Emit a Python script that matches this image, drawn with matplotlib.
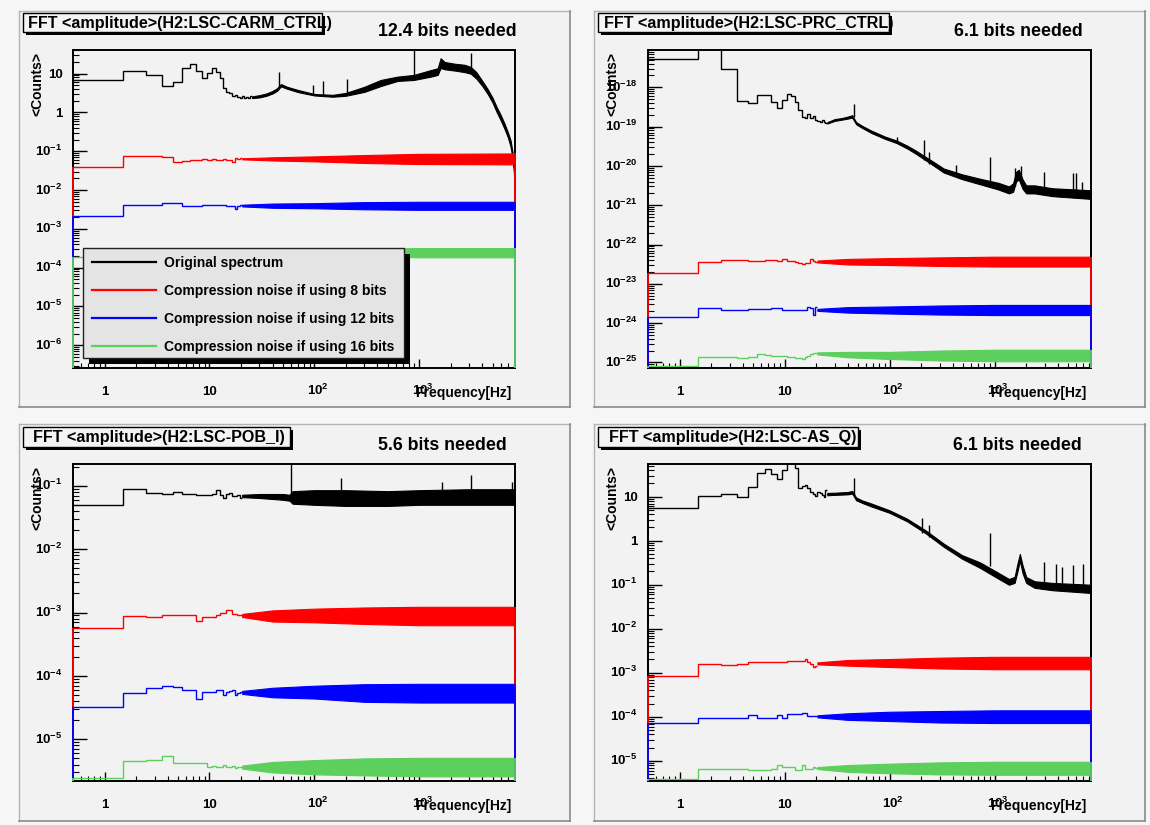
import numpy as np
import matplotlib
matplotlib.use("Agg")
import matplotlib.pyplot as plt
import matplotlib.transforms as mtransforms
from matplotlib.patches import Rectangle
from matplotlib.ticker import LogLocator, NullFormatter

plt.rcParams['font.family'] = ['Liberation Sans', 'DejaVu Sans']
plt.rcParams['font.weight'] = 'bold'
plt.rcParams['mathtext.fontset'] = 'custom'
plt.rcParams['mathtext.rm'] = 'Liberation Sans:bold'
plt.rcParams['mathtext.it'] = 'Liberation Sans:bold'
plt.rcParams['mathtext.bf'] = 'Liberation Sans:bold'
plt.rcParams['mathtext.sf'] = 'Liberation Sans:bold'
plt.rcParams['mathtext.default'] = 'rm'

# ======================= DATA =======================
freq_min, freq_max = 0.5, 8192.0
first_edge = 0.5
bin_width = 1.0

panel_titles = ["FFT <amplitude>(H2:LSC-CARM_CTRL)", "FFT <amplitude>(H2:LSC-PRC_CTRL)",
                "FFT <amplitude>(H2:LSC-POB_I)", "FFT <amplitude>(H2:LSC-AS_Q)"]
bits_needed = [12.4, 6.1, 5.6, 6.1]
legend_labels = ["Original spectrum", "Compression noise if using 8 bits",
                 "Compression noise if using 12 bits", "Compression noise if using 16 bits"]
x_label = "Frequency[Hz]"
y_label = "<Counts>"
y_limits = [(2.6e-7, 40.8), (7.2e-26, 8.9e-18), (2.2e-6, 0.22), (3.47e-6, 55.3)]

# ---- Panel 1: H2:LSC-CARM_CTRL ----
p1_black_bins = [6.8, 11.7, 9.2, 4.8, 6.2, 13.8, 17.4, 11.7, 7.6, 10.2, 13.8, 11.3, 7.6, 4.35,
                 3.44, 3.1, 2.7, 2.9, 2.5, 2.3, 2.6, 2.4, 2.5, 2.3, 2.6]
p1_black_band_f = [25.5, 30, 35, 40, 44, 48, 55, 70, 100, 150, 200, 300, 430, 620, 890, 1290, 1500,
                   1600, 1750, 2200, 2700, 3100, 3500, 4000, 4500, 5000, 5500, 6000, 6500, 7000,
                   7440, 7800, 8000, 8130, 8192]
p1_black_band_lo = [2.35, 2.45, 2.7, 3.1, 3.6, 4.7, 4.1, 3.35, 2.75, 2.55, 2.7, 3.4, 4.8, 6.5, 6.9, 8.4, 9.3,
                    14, 13, 12, 11, 10, 7.5, 4.8, 3.0, 1.8, 1.0, 0.62, 0.38, 0.23,
                    0.13, 0.06, 0.028, 0.010, 0.003]
p1_black_band_hi = [2.6, 2.8, 3.1, 3.6, 4.2, 5.4, 4.6, 3.8, 3.0, 2.85, 3.2, 4.6, 6.9, 8.4, 9.3, 12.4, 13.8,
                    25, 20, 18, 17, 15, 11, 6.5, 4.0, 2.4, 1.35, 0.85, 0.52, 0.31,
                    0.19, 0.085, 0.042, 0.016, 0.005]
p1_spike_f = [46, 98, 120, 206, 900, 3130]
p1_spike_lo = [4.2, 2.8, 2.7, 3.0, 8.0, 15.0]
p1_spike_hi = [11.0, 5.1, 6.4, 7.2, 60.0, 34.0]
p1_red_bins = [0.040, 0.0757, 0.0757, 0.070, 0.054, 0.0575, 0.058, 0.060, 0.062, 0.060, 0.062,
               0.060, 0.061, 0.062, 0.060, 0.058, 0.052, 0.066, 0.064, 0.066]
p1_blue_bins = [0.0022, 0.0041, 0.0041, 0.0046, 0.0046, 0.0040, 0.0040, 0.0040, 0.0041, 0.0041,
                0.0041, 0.0042, 0.0042, 0.0042, 0.0040, 0.0039, 0.0040, 0.0033, 0.0040, 0.0041]
p1_green_bins = [1.86e-4, 2.4e-4, 2.4e-4, 2.5e-4, 2.5e-4, 2.4e-4, 2.4e-4, 2.4e-4, 2.5e-4, 2.5e-4,
                 2.5e-4, 2.5e-4, 2.5e-4, 2.4e-4, 2.4e-4, 2.4e-4, 2.5e-4, 2.3e-4, 2.5e-4, 2.5e-4]
p1_noise_f = [20.5, 40, 100, 300, 1000, 8192]
p1_red_lo = [0.062, 0.058, 0.055, 0.050, 0.047, 0.046]
p1_red_hi = [0.066, 0.070, 0.074, 0.080, 0.086, 0.088]
p1_blue_lo = [0.0038, 0.0035, 0.0034, 0.0032, 0.0031, 0.0031]
p1_blue_hi = [0.0042, 0.0045, 0.0046, 0.0049, 0.0050, 0.0050]
p1_green_lo = [2.35e-4, 2.1e-4, 2.0e-4, 1.95e-4, 1.85e-4, 1.85e-4]
p1_green_hi = [2.6e-4, 2.9e-4, 3.0e-4, 3.1e-4, 3.2e-4, 3.2e-4]

# ---- Panel 2: H2:LSC-PRC_CTRL ----
p2_black_bins = [5.2e-18, 1.5e-17, 3.0e-18, 4.6e-19, 3.9e-19, 6.3e-19, 6.4e-19, 4.3e-19, 3.0e-19,
                 4.8e-19, 6.8e-19, 6.1e-19, 4.2e-19, 2.6e-19, 1.8e-19, 1.7e-19, 2.1e-19, 1.7e-19,
                 1.9e-19, 1.5e-19, 1.4e-19, 1.3e-19, 1.5e-19, 1.3e-19, 1.2e-19]
p2_black_band_f = [25.5, 30, 35, 40, 44, 48, 55, 67, 90, 117, 148, 180, 220, 258, 327, 490, 730,
                   1090, 1370, 1500, 1600, 1700, 1850, 2000, 2400, 3550, 8192]
p2_black_band_lo = [1.2e-19, 1.4e-19, 1.5e-19, 1.6e-19, 1.7e-19, 1.15e-19, 9.2e-20, 6.9e-20,
                    4.9e-20, 3.8e-20, 2.75e-20, 2.0e-20, 1.4e-20, 1.05e-20, 6.8e-21, 4.6e-21, 3.4e-21,
                    2.5e-21, 2.0e-21, 2.2e-21, 4.0e-21, 4.5e-21, 2.6e-21, 2.0e-21, 2.0e-21, 1.7e-21,
                    1.45e-21]
p2_black_band_hi = [1.3e-19, 1.55e-19, 1.65e-19, 1.8e-19, 1.95e-19, 1.3e-19, 1.04e-19, 7.9e-20,
                    5.6e-20, 4.4e-20, 3.25e-20, 2.4e-20, 1.7e-20, 1.3e-20, 8.6e-21, 6.1e-21, 4.7e-21,
                    3.7e-21, 3.0e-21, 3.6e-21, 7.0e-21, 8.0e-21, 4.5e-21, 3.2e-21, 3.2e-21, 2.7e-21,
                    2.4e-21]
p2_spike_f = [46, 117, 211, 238, 425, 900, 1560, 1790, 2950, 5540, 5950, 6800]
p2_spike_lo = [1.8e-19, 4.0e-20, 1.4e-20, 1.1e-20, 6.0e-21, 3.5e-21, 3.0e-21, 5.0e-21, 2.3e-21,
               2.0e-21, 2.0e-21, 2.0e-21]
p2_spike_hi = [3.7e-19, 5.5e-20, 4.6e-20, 2.3e-20, 1.05e-20, 1.7e-20, 8.9e-21, 1.0e-20, 7.0e-21,
               6.5e-21, 6.5e-21, 4.0e-21]
p2_red_bins = [1.85e-23, 3.66e-23, 4.0e-23, 4.0e-23, 3.9e-23, 3.9e-23, 4.0e-23, 4.0e-23, 3.9e-23,
               4.4e-23, 3.9e-23, 3.8e-23, 3.6e-23, 3.3e-23, 3.2e-23, 3.3e-23, 3.3e-23, 4.3e-23,
               3.9e-23, 3.6e-23]
p2_blue_bins = [1.46e-24, 2.4e-24, 2.1e-24, 2.1e-24, 2.25e-24, 2.25e-24, 2.25e-24, 2.4e-24, 2.4e-24,
                2.1e-24, 2.1e-24, 2.1e-24, 2.1e-24, 2.1e-24, 2.1e-24, 2.1e-24, 2.6e-24, 2.4e-24,
                1.6e-24, 2.6e-24]
p2_green_bins = [8.1e-26, 1.4e-25, 1.4e-25, 1.26e-25, 1.4e-25, 1.6e-25, 1.5e-25, 1.45e-25, 1.45e-25,
                 1.45e-25, 1.35e-25, 1.35e-25, 1.3e-25, 1.3e-25, 1.25e-25, 1.4e-25, 1.45e-25, 1.6e-25,
                 1.7e-25, 1.75e-25]
p2_noise_f = [20.5, 40, 100, 300, 1000, 8192]
p2_red_lo = [3.5e-23, 3.1e-23, 3.0e-23, 2.85e-23, 2.75e-23, 2.75e-23]
p2_red_hi = [3.9e-23, 4.3e-23, 4.5e-23, 4.7e-23, 4.9e-23, 4.9e-23]
p2_blue_lo = [2.05e-24, 1.85e-24, 1.75e-24, 1.65e-24, 1.6e-24, 1.6e-24]
p2_blue_hi = [2.3e-24, 2.55e-24, 2.65e-24, 2.8e-24, 2.9e-24, 2.9e-24]
p2_green_lo = [1.6e-25, 1.35e-25, 1.22e-25, 1.12e-25, 1.07e-25, 1.07e-25]
p2_green_hi = [1.8e-25, 1.85e-25, 1.85e-25, 2.0e-25, 2.1e-25, 2.1e-25]

# ---- Panel 3: H2:LSC-POB_I ----
p3_black_bins = [0.0497, 0.0877, 0.0776, 0.0748, 0.0804, 0.0748, 0.0748, 0.0713, 0.0713, 0.0713,
                 0.0748, 0.0855, 0.0713, 0.063, 0.075, 0.078, 0.070, 0.068, 0.072, 0.065]
p3_black_band_f = [20.5, 30, 50, 58, 62, 100, 200, 500, 1000, 3000, 8192]
p3_black_band_lo = [0.066, 0.064, 0.060, 0.058, 0.052, 0.050, 0.048, 0.048, 0.050, 0.050, 0.050]
p3_black_band_hi = [0.072, 0.074, 0.074, 0.072, 0.082, 0.085, 0.085, 0.082, 0.085, 0.088, 0.088]
p3_spike_f = [60, 181, 1640, 3140, 7700]
p3_spike_lo = [0.07, 0.07, 0.07, 0.07, 0.07]
p3_spike_hi = [0.4, 0.13, 0.116, 0.15, 0.116]
p3_red_bins = [5.76e-4, 8.8e-4, 8.4e-4, 9.3e-4, 9.3e-4, 9.1e-4, 9.1e-4, 7.4e-4, 8.6e-4, 8.6e-4,
               8.6e-4, 9.3e-4, 1.0e-3, 1.0e-3, 1.1e-3, 1.1e-3, 9.6e-4, 9.6e-4, 9.0e-4, 9.0e-4]
p3_blue_bins = [3.2e-5, 5.4e-5, 6.4e-5, 6.9e-5, 6.6e-5, 5.9e-5, 5.9e-5, 4.4e-5, 5.5e-5, 5.5e-5,
                5.5e-5, 5.9e-5, 5.9e-5, 5.0e-5, 5.6e-5, 5.8e-5, 5.9e-5, 5.0e-5, 5.4e-5, 5.6e-5]
p3_green_bins = [2.43e-6, 4.55e-6, 4.7e-6, 5.5e-6, 4.3e-6, 4.3e-6, 4.3e-6, 4.2e-6, 4.2e-6, 3.7e-6,
                 3.8e-6, 3.6e-6, 3.6e-6, 3.9e-6, 3.7e-6, 3.6e-6, 3.8e-6, 3.5e-6, 3.6e-6, 3.7e-6]
p3_noise_f = [20.5, 40, 100, 300, 1000, 8192]
p3_red_lo = [8.5e-4, 7.2e-4, 7.0e-4, 6.6e-4, 6.3e-4, 6.3e-4]
p3_red_hi = [9.5e-4, 1.08e-3, 1.15e-3, 1.2e-3, 1.23e-3, 1.23e-3]
p3_blue_lo = [5.2e-5, 4.6e-5, 4.4e-5, 3.9e-5, 3.8e-5, 3.8e-5]
p3_blue_hi = [5.8e-5, 6.5e-5, 7.0e-5, 7.4e-5, 7.5e-5, 7.5e-5]
p3_green_lo = [3.45e-6, 3.0e-6, 2.8e-6, 2.7e-6, 2.6e-6, 2.6e-6]
p3_green_hi = [3.85e-6, 4.4e-6, 4.7e-6, 5.0e-6, 5.1e-6, 5.1e-6]

# ---- Panel 4: H2:LSC-AS_Q ----
p4_black_bins = [5.62, 10.5, 11.5, 9.7, 16.9, 34, 42.7, 32, 25.2, 40, 60, 60, 44, 15.5, 17.5, 18.5,
                 15.5, 13, 11.5, 10.5, 13, 12, 11, 10, 14]
p4_black_band_f = [25.5, 30, 40, 44, 48, 55, 67, 100, 147, 220, 327, 490, 730, 1070, 1370, 1550,
                   1650, 1740, 1850, 2000, 2400, 3550, 8192]
p4_black_band_lo = [10.8, 11, 11.3, 11.8, 8.3, 7.2, 6.0, 4.3, 2.75, 1.48, 0.73, 0.39, 0.24, 0.14, 0.10,
                    0.11, 0.2, 0.35, 0.18, 0.11, 0.085, 0.075, 0.065]
p4_black_band_hi = [12.2, 12.3, 12.8, 13.5, 9.6, 8.2, 7.0, 4.9, 3.15, 1.72, 0.86, 0.47, 0.32, 0.19, 0.135,
                    0.15, 0.3, 0.5, 0.27, 0.15, 0.12, 0.11, 0.10]
p4_spike_f = [46, 203, 237, 907, 2950, 3860, 4380, 5540, 7000]
p4_spike_lo = [11, 1.5, 1.2, 0.27, 0.09, 0.09, 0.09, 0.085, 0.08]
p4_spike_hi = [27, 3.2, 2.3, 1.5, 0.33, 0.3, 0.25, 0.28, 0.3]
p4_red_bins = [8.55e-4, 1.55e-3, 1.47e-3, 1.55e-3, 1.72e-3, 1.72e-3, 1.72e-3, 1.72e-3, 1.78e-3,
               1.78e-3, 1.85e-3, 1.85e-3, 1.85e-3, 1.85e-3, 1.85e-3, 2.05e-3, 1.78e-3, 1.6e-3,
               1.37e-3, 1.45e-3]
p4_blue_bins = [7.3e-5, 9.5e-5, 9.6e-5, 9.6e-5, 1.09e-4, 9.5e-5, 9.5e-5, 9.5e-5, 1.09e-4, 9.2e-5,
                1.17e-4, 1.17e-4, 1.17e-4, 1.17e-4, 1.2e-4, 1.22e-4, 1.05e-4, 1.05e-4, 1.05e-4,
                1.05e-4]
p4_green_bins = [3.84e-6, 6.5e-6, 6.6e-6, 6.6e-6, 6.2e-6, 6.2e-6, 6.2e-6, 6.6e-6, 8.0e-6, 7.3e-6,
                 7.3e-6, 7.3e-6, 6.2e-6, 6.2e-6, 8.0e-6, 6.6e-6, 6.6e-6, 6.6e-6, 7.3e-6, 6.8e-6]
p4_noise_f = [20.5, 40, 100, 300, 1000, 8192]
p4_red_lo = [1.55e-3, 1.45e-3, 1.35e-3, 1.25e-3, 1.2e-3, 1.2e-3]
p4_red_hi = [1.72e-3, 1.95e-3, 2.05e-3, 2.2e-3, 2.3e-3, 2.3e-3]
p4_blue_lo = [9.7e-5, 8.5e-5, 8.0e-5, 7.4e-5, 7.2e-5, 7.2e-5]
p4_blue_hi = [1.08e-4, 1.2e-4, 1.3e-4, 1.35e-4, 1.4e-4, 1.4e-4]
p4_green_lo = [6.5e-6, 5.6e-6, 5.2e-6, 4.9e-6, 4.8e-6, 4.8e-6]
p4_green_hi = [7.2e-6, 8.0e-6, 8.6e-6, 9.2e-6, 9.5e-6, 9.5e-6]

# ======================= STYLE / LAYOUT =======================
W, H = 1150, 825
C_BLACK, C_RED, C_BLUE, C_GREEN = '#000000', '#ff0000', '#0000ff', '#5ccf5c'
PAD_BG = '#f2f2f2'
axes_px = [(73, 50, 515, 368), (648, 50, 1090.5, 368), (73, 464, 515, 781), (648, 464, 1090.5, 781)]
pads_px = [(18.5, 11, 570, 407), (593.5, 11, 1145, 407), (18.5, 424, 570, 821), (593.5, 424, 1145, 821)]
title_box_px = [(23, 12.7, 322, 31.7), (598, 12.7, 889, 31.7), (23, 426.7, 290, 446.7), (598, 426.7, 858, 446.7)]
title_text_x = [27.8, 603.6, 33.3, 609]
bits_pos = [(447.6, 32), (1018, 32), (442.6, 445), (1017.6, 445)]

panels = [
    dict(black=(p1_black_bins, p1_black_band_f, p1_black_band_lo, p1_black_band_hi),
         spikes=(p1_spike_f, p1_spike_lo, p1_spike_hi),
         red=(p1_red_bins, p1_noise_f, p1_red_lo, p1_red_hi),
         blue=(p1_blue_bins, p1_noise_f, p1_blue_lo, p1_blue_hi),
         green=(p1_green_bins, p1_noise_f, p1_green_lo, p1_green_hi)),
    dict(black=(p2_black_bins, p2_black_band_f, p2_black_band_lo, p2_black_band_hi),
         spikes=(p2_spike_f, p2_spike_lo, p2_spike_hi),
         red=(p2_red_bins, p2_noise_f, p2_red_lo, p2_red_hi),
         blue=(p2_blue_bins, p2_noise_f, p2_blue_lo, p2_blue_hi),
         green=(p2_green_bins, p2_noise_f, p2_green_lo, p2_green_hi)),
    dict(black=(p3_black_bins, p3_black_band_f, p3_black_band_lo, p3_black_band_hi),
         spikes=(p3_spike_f, p3_spike_lo, p3_spike_hi),
         red=(p3_red_bins, p3_noise_f, p3_red_lo, p3_red_hi),
         blue=(p3_blue_bins, p3_noise_f, p3_blue_lo, p3_blue_hi),
         green=(p3_green_bins, p3_noise_f, p3_green_lo, p3_green_hi)),
    dict(black=(p4_black_bins, p4_black_band_f, p4_black_band_lo, p4_black_band_hi),
         spikes=(p4_spike_f, p4_spike_lo, p4_spike_hi),
         red=(p4_red_bins, p4_noise_f, p4_red_lo, p4_red_hi),
         blue=(p4_blue_bins, p4_noise_f, p4_blue_lo, p4_blue_hi),
         green=(p4_green_bins, p4_noise_f, p4_green_lo, p4_green_hi)),
]

fig = plt.figure(figsize=(W / 100, H / 100), dpi=100)
fig.patch.set_facecolor('#f6f6f6')

bg = fig.add_axes([0, 0, 1, 1], zorder=0)
bg.set_xlim(0, W); bg.set_ylim(H, 0); bg.axis('off')
fg = fig.add_axes([0, 0, 1, 1], zorder=5)
fg.set_xlim(0, W); fg.set_ylim(H, 0); fg.axis('off')
fg.patch.set_alpha(0)


def px_off(dx, dy):
    return mtransforms.ScaledTranslation(dx / 100.0, -dy / 100.0, fig.dpi_scale_trans)


def dec_label(e):
    if e == 0:
        return '1'
    if e == 1:
        return '10'
    return r'$10^{%d}$' % e


def draw_series(ax, series, color, ymin):
    bins, band_f, band_lo, band_hi = series
    edges = first_edge + bin_width * np.arange(len(bins) + 1)
    ax.stairs(bins, edges, baseline=None, color=color, lw=1.0, zorder=2)
    ax.fill_between(band_f, band_lo, band_hi, color=color, lw=0.8, zorder=2)
    ax.vlines(freq_min, ymin, bins[0], color=color, lw=1.3, zorder=3, clip_on=False)
    ax.vlines(freq_max, ymin, band_hi[-1], color=color, lw=1.3, zorder=3, clip_on=False)


for i, pan in enumerate(panels):
    # pad background + border
    x0, y0, x1, y1 = pads_px[i]
    bg.add_patch(Rectangle((x0, y0), x1 - x0, y1 - y0, facecolor=PAD_BG, edgecolor='none'))
    bg.plot([x0, x1], [y0, y0], color='#b4b4b4', lw=1)
    bg.plot([x0, x0], [y0, y1], color='#b4b4b4', lw=1)
    bg.plot([x1, x1], [y0, y1], color='#8a8a8a', lw=1.2)
    bg.plot([x0, x1], [y1, y1], color='#8a8a8a', lw=1.2)

    l, t, r, b = axes_px[i]
    ax = fig.add_axes([l / W, 1 - b / H, (r - l) / W, (b - t) / H], zorder=2)
    ax.set_facecolor(PAD_BG)
    ax.set_xscale('log'); ax.set_yscale('log')
    ymin, ymax = y_limits[i]
    ax.set_xlim(freq_min, freq_max)
    ax.set_ylim(ymin, ymax)

    draw_series(ax, pan['black'], C_BLACK, ymin)
    sf, slo, shi = pan['spikes']
    ax.vlines(sf, slo, shi, color=C_BLACK, lw=1.0, zorder=2)
    draw_series(ax, pan['red'], C_RED, ymin)
    draw_series(ax, pan['blue'], C_BLUE, ymin)
    draw_series(ax, pan['green'], C_GREEN, ymin)

    for s in ax.spines.values():
        s.set_linewidth(1.4)
    ax.xaxis.set_major_locator(LogLocator(base=10, numticks=100))
    ax.xaxis.set_minor_locator(LogLocator(base=10, subs=np.arange(2, 10), numticks=100))
    ax.yaxis.set_major_locator(LogLocator(base=10, numticks=100))
    ax.yaxis.set_minor_locator(LogLocator(base=10, subs=np.arange(2, 10), numticks=100))
    for a in (ax.xaxis, ax.yaxis):
        a.set_major_formatter(NullFormatter())
        a.set_minor_formatter(NullFormatter())
    ax.tick_params(axis='both', which='both', direction='in', top=False, right=False, colors='black')
    ax.tick_params(axis='y', which='major', length=10, width=1.0)
    ax.tick_params(axis='y', which='minor', length=4.5, width=0.8)
    ax.tick_params(axis='x', which='major', length=6.5, width=1.0)
    ax.tick_params(axis='x', which='minor', length=3.3, width=0.8)

    # x tick labels
    xtr = mtransforms.blended_transform_factory(ax.transData, ax.transAxes)
    for e in range(0, 4):
        if e < 2:
            ax.text(10.0 ** e, 0, dec_label(e), transform=xtr + px_off(0, 27), ha='center',
                    va='baseline', fontsize=9.5, fontweight='bold', clip_on=False)
        else:
            ax.text(10.0 ** e, 0, dec_label(e), transform=xtr + px_off(-7.3, 27), ha='left',
                    va='baseline', fontsize=9.5, fontweight='bold', clip_on=False)
    # y tick labels
    ytr = mtransforms.blended_transform_factory(ax.transAxes, ax.transData)
    for e in range(int(np.ceil(np.log10(ymin))), int(np.floor(np.log10(ymax))) + 1):
        ax.text(0, 10.0 ** e, dec_label(e), transform=ytr + px_off(-10.5, 4.6), ha='right',
                va='baseline', fontsize=9.5, fontweight='bold', clip_on=False)

    ax.text(1, 0, x_label, transform=ax.transAxes + px_off(-4, 29), ha='right', va='baseline',
            fontsize=10, fontweight='bold')
    ax.text(0, 1, y_label, transform=ax.transAxes + px_off(-36, 2), ha='center', va='top',
            rotation=90, fontsize=10, fontweight='bold')

    # title box
    bx0, by0, bx1, by1 = title_box_px[i]
    fg.add_patch(Rectangle((bx0, by0), bx1 - bx0, by1 - by0, facecolor='#f4f4f4',
                           edgecolor='black', lw=1.0, zorder=2))
    fg.text(title_text_x[i], by0 + 15.5, panel_titles[i], ha='left', va='baseline',
            fontsize=11.6, fontweight='bold', zorder=3)
    fg.add_patch(Rectangle((bx1, by0 + 3), 3, by1 - by0, facecolor='black', edgecolor='none', zorder=4))
    fg.add_patch(Rectangle((bx0 + 3, by1), bx1 - bx0, 3, facecolor='black', edgecolor='none', zorder=4))

    bxc, byc = bits_pos[i]
    fg.text(bxc, byc, f"{bits_needed[i]} bits needed", ha='center', va='center',
            fontsize=12.8, fontweight='bold', zorder=3)

# legend (panel 1)
lx0, ly0, lx1, ly1 = 83.3, 248.3, 404.3, 358.3
fg.add_patch(Rectangle((lx1, ly0 + 6), 6, ly1 - ly0, facecolor='black', edgecolor='none', zorder=6))
fg.add_patch(Rectangle((lx0 + 6, ly1), lx1 - lx0, 6, facecolor='black', edgecolor='none', zorder=6))
fg.add_patch(Rectangle((lx0, ly0), lx1 - lx0, ly1 - ly0, facecolor='#e4e4e4', edgecolor='#222222',
                       lw=1.0, zorder=7))
row_y = [262.3, 290, 318.3, 346]
for yy, lab, col in zip(row_y, legend_labels, [C_BLACK, C_RED, C_BLUE, C_GREEN]):
    fg.plot([91.7, 156], [yy, yy], color=col, lw=1.6, zorder=8)
    fg.text(164.3, yy + 5, lab, ha='left', va='baseline', fontsize=10, fontweight='bold', zorder=8)

fig.savefig('out.png', dpi=100, facecolor=fig.get_facecolor())
